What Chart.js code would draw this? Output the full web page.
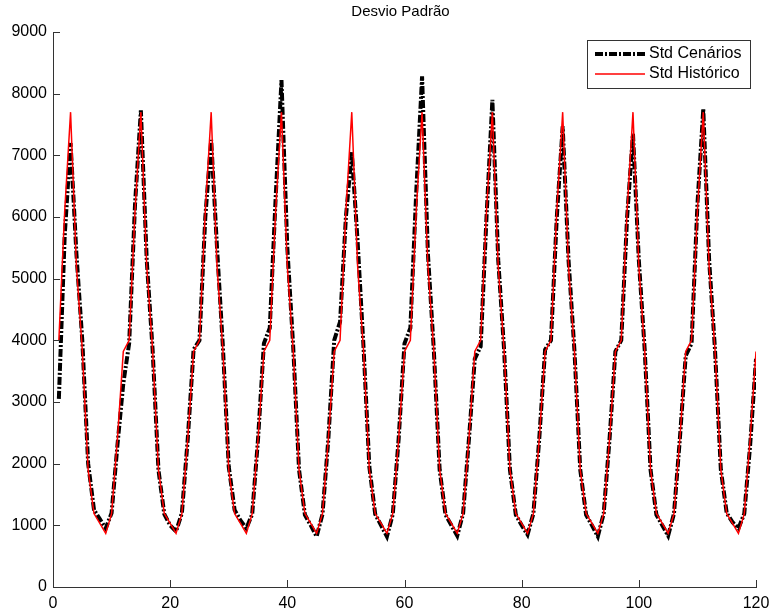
<!DOCTYPE html>
<html lang="pt">
<head>
  <meta charset="UTF-8" />
  <title>Desvio Padrão</title>
  <script src="https://cdn.jsdelivr.net/npm/chart.js"></script>
  <style>
    html, body { margin: 0; padding: 0; background: #fff; }
    #wrap { width: 772px; height: 616px; position: relative; }
  </style>
</head>
<body>
  <div id="wrap"><canvas id="stdChart"></canvas></div>

  <script>
    // Desvio padrão mensal (10 anos x 12 meses)
    const stdCenarios = [
      3050, 5700, 7200, 5400, 4000, 2000, 1250, 1100, 950, 1200, 2300, 3300,
      3950, 6200, 7730, 5300, 3850, 1900, 1180, 1000, 900, 1200, 2400, 3850,
      4000, 6000, 7250, 5500, 3900, 1950, 1250, 1080, 950, 1180, 2400, 3950,
      4200, 6300, 8220, 5500, 3900, 1900, 1170, 1000, 820, 1180, 2400, 4000,
      4300, 6000, 7050, 5600, 3900, 1950, 1180, 1000, 820, 1180, 2400, 3950,
      4200, 6400, 8280, 5400, 3850, 1900, 1170, 1000, 830, 1190, 2400, 3700,
      3900, 6000, 7900, 5300, 3850, 1900, 1170, 1000, 850, 1190, 2400, 3850,
      4000, 6000, 7470, 5300, 3850, 1900, 1170, 1000, 820, 1190, 2400, 3820,
      4000, 6000, 7350, 5300, 3850, 1900, 1170, 1000, 830, 1190, 2400, 3750,
      3950, 6200, 7750, 5300, 3850, 1900, 1200, 1050, 950, 1190, 2300, 3700
    ];
    const stdHistorico = [
      4000, 6100, 7700, 5200, 3850, 1900, 1190, 1030, 870, 1190, 2400, 3820,
      4000, 6100, 7700, 5200, 3850, 1900, 1190, 1030, 870, 1190, 2400, 3820,
      4000, 6100, 7700, 5200, 3850, 1900, 1190, 1030, 870, 1190, 2400, 3820,
      4000, 6100, 7700, 5200, 3850, 1900, 1190, 1030, 870, 1190, 2400, 3820,
      4000, 6100, 7700, 5200, 3850, 1900, 1190, 1030, 870, 1190, 2400, 3820,
      4000, 6100, 7700, 5200, 3850, 1900, 1190, 1030, 870, 1190, 2400, 3820,
      4000, 6100, 7700, 5200, 3850, 1900, 1190, 1030, 870, 1190, 2400, 3820,
      4000, 6100, 7700, 5200, 3850, 1900, 1190, 1030, 870, 1190, 2400, 3820,
      4000, 6100, 7700, 5200, 3850, 1900, 1190, 1030, 870, 1190, 2400, 3820,
      4000, 6100, 7700, 5200, 3850, 1900, 1190, 1030, 870, 1190, 2400, 3820
    ];
    const months = stdHistorico.map((_, i) => i + 1);
    const xTicks = [0, 20, 40, 60, 80, 100, 120];
    const yTicks = [0, 1000, 2000, 3000, 4000, 5000, 6000, 7000, 8000, 9000];
    const seriesNames = ['Std Cenários', 'Std Histórico'];

    const FONT = 'Liberation Sans, Arial, Helvetica, sans-serif';
    const blackDash = [8, 2, 2, 2];

    // title, inward ticks and legend box (MATLAB look)
    const matlabAxes = {
      id: 'matlabAxes',
      afterDraw(chart) {
        const { ctx, chartArea: a, scales } = chart;
        ctx.save();

        ctx.fillStyle = '#000';
        ctx.font = '15px ' + FONT;
        ctx.textAlign = 'center';
        ctx.textBaseline = 'middle';
        ctx.fillText('Desvio Padrão', (a.left + a.right) / 2 - 4, 12);

        ctx.strokeStyle = '#333';
        ctx.lineWidth = 1;
        ctx.beginPath();
        xTicks.forEach(v => {
          const px = Math.round(scales.x.getPixelForValue(v)) + 0.5;
          ctx.moveTo(px, a.bottom);
          ctx.lineTo(px, a.bottom - 7);
        });
        yTicks.forEach(v => {
          const py = Math.round(scales.y.getPixelForValue(v)) + 0.5;
          ctx.moveTo(a.left, py);
          ctx.lineTo(a.left + 7, py);
        });
        ctx.stroke();

        // legend
        const bx = 587.5, by = 40.5, bw = 163, bh = 48;
        ctx.fillStyle = '#fff';
        ctx.fillRect(bx, by, bw, bh);
        ctx.strokeStyle = '#333';
        ctx.strokeRect(bx, by, bw, bh);

        ctx.beginPath();
        ctx.setLineDash(blackDash);
        ctx.lineWidth = 4;
        ctx.strokeStyle = '#000';
        ctx.moveTo(595, 54);
        ctx.lineTo(645, 54);
        ctx.stroke();

        ctx.beginPath();
        ctx.setLineDash([]);
        ctx.lineWidth = 1.5;
        ctx.strokeStyle = '#ff0000';
        ctx.moveTo(595, 74);
        ctx.lineTo(645, 74);
        ctx.stroke();

        ctx.fillStyle = '#000';
        ctx.font = '16px ' + FONT;
        ctx.textAlign = 'left';
        ctx.textBaseline = 'middle';
        ctx.fillText(seriesNames[0], 649, 54);
        ctx.fillText(seriesNames[1], 649, 74);
        ctx.restore();
      }
    };

    new Chart(document.getElementById('stdChart'), {
      type: 'line',
      data: {
        labels: months,
        datasets: [
          {
            label: seriesNames[0],
            data: months.map((m, i) => ({ x: m, y: stdCenarios[i] })),
            borderColor: '#000',
            borderWidth: 4,
            borderDash: blackDash,
            pointRadius: 0,
            tension: 0,
            order: 2
          },
          {
            label: seriesNames[1],
            data: months.map((m, i) => ({ x: m, y: stdHistorico[i] })),
            borderColor: '#ff0000',
            borderWidth: 1.5,
            pointRadius: 0,
            tension: 0,
            order: 1
          }
        ]
      },
      options: {
        responsive: true,
        maintainAspectRatio: false,
        animation: false,
        layout: { padding: { top: 32, right: 16, left: 0, bottom: 0 } },
        plugins: {
          legend: { display: false },
          tooltip: { enabled: false },
          title: { display: false }
        },
        scales: {
          x: {
            type: 'linear',
            min: 0,
            max: 120,
            afterBuildTicks: s => { s.ticks = xTicks.map(v => ({ value: v })); },
            grid: { display: false, drawTicks: false },
            border: { display: true, color: '#333', width: 1 },
            ticks: {
              color: '#000', font: { size: 16, family: FONT }, padding: 7, maxRotation: 0,
              callback: v => String(v)
            },
            afterFit: s => { s.height = 29; s.paddingLeft = 0; s.paddingRight = 0; }
          },
          y: {
            type: 'linear',
            min: 0,
            max: 9000,
            afterBuildTicks: s => { s.ticks = yTicks.map(v => ({ value: v })); },
            grid: { display: false, drawTicks: false },
            border: { display: true, color: '#333', width: 1 },
            ticks: {
              color: '#000', font: { size: 16, family: FONT }, padding: 6,
              callback: v => String(v)
            },
            afterFit: s => { s.width = 53; }
          }
        }
      },
      plugins: [matlabAxes]
    });
  </script>
</body>
</html>
